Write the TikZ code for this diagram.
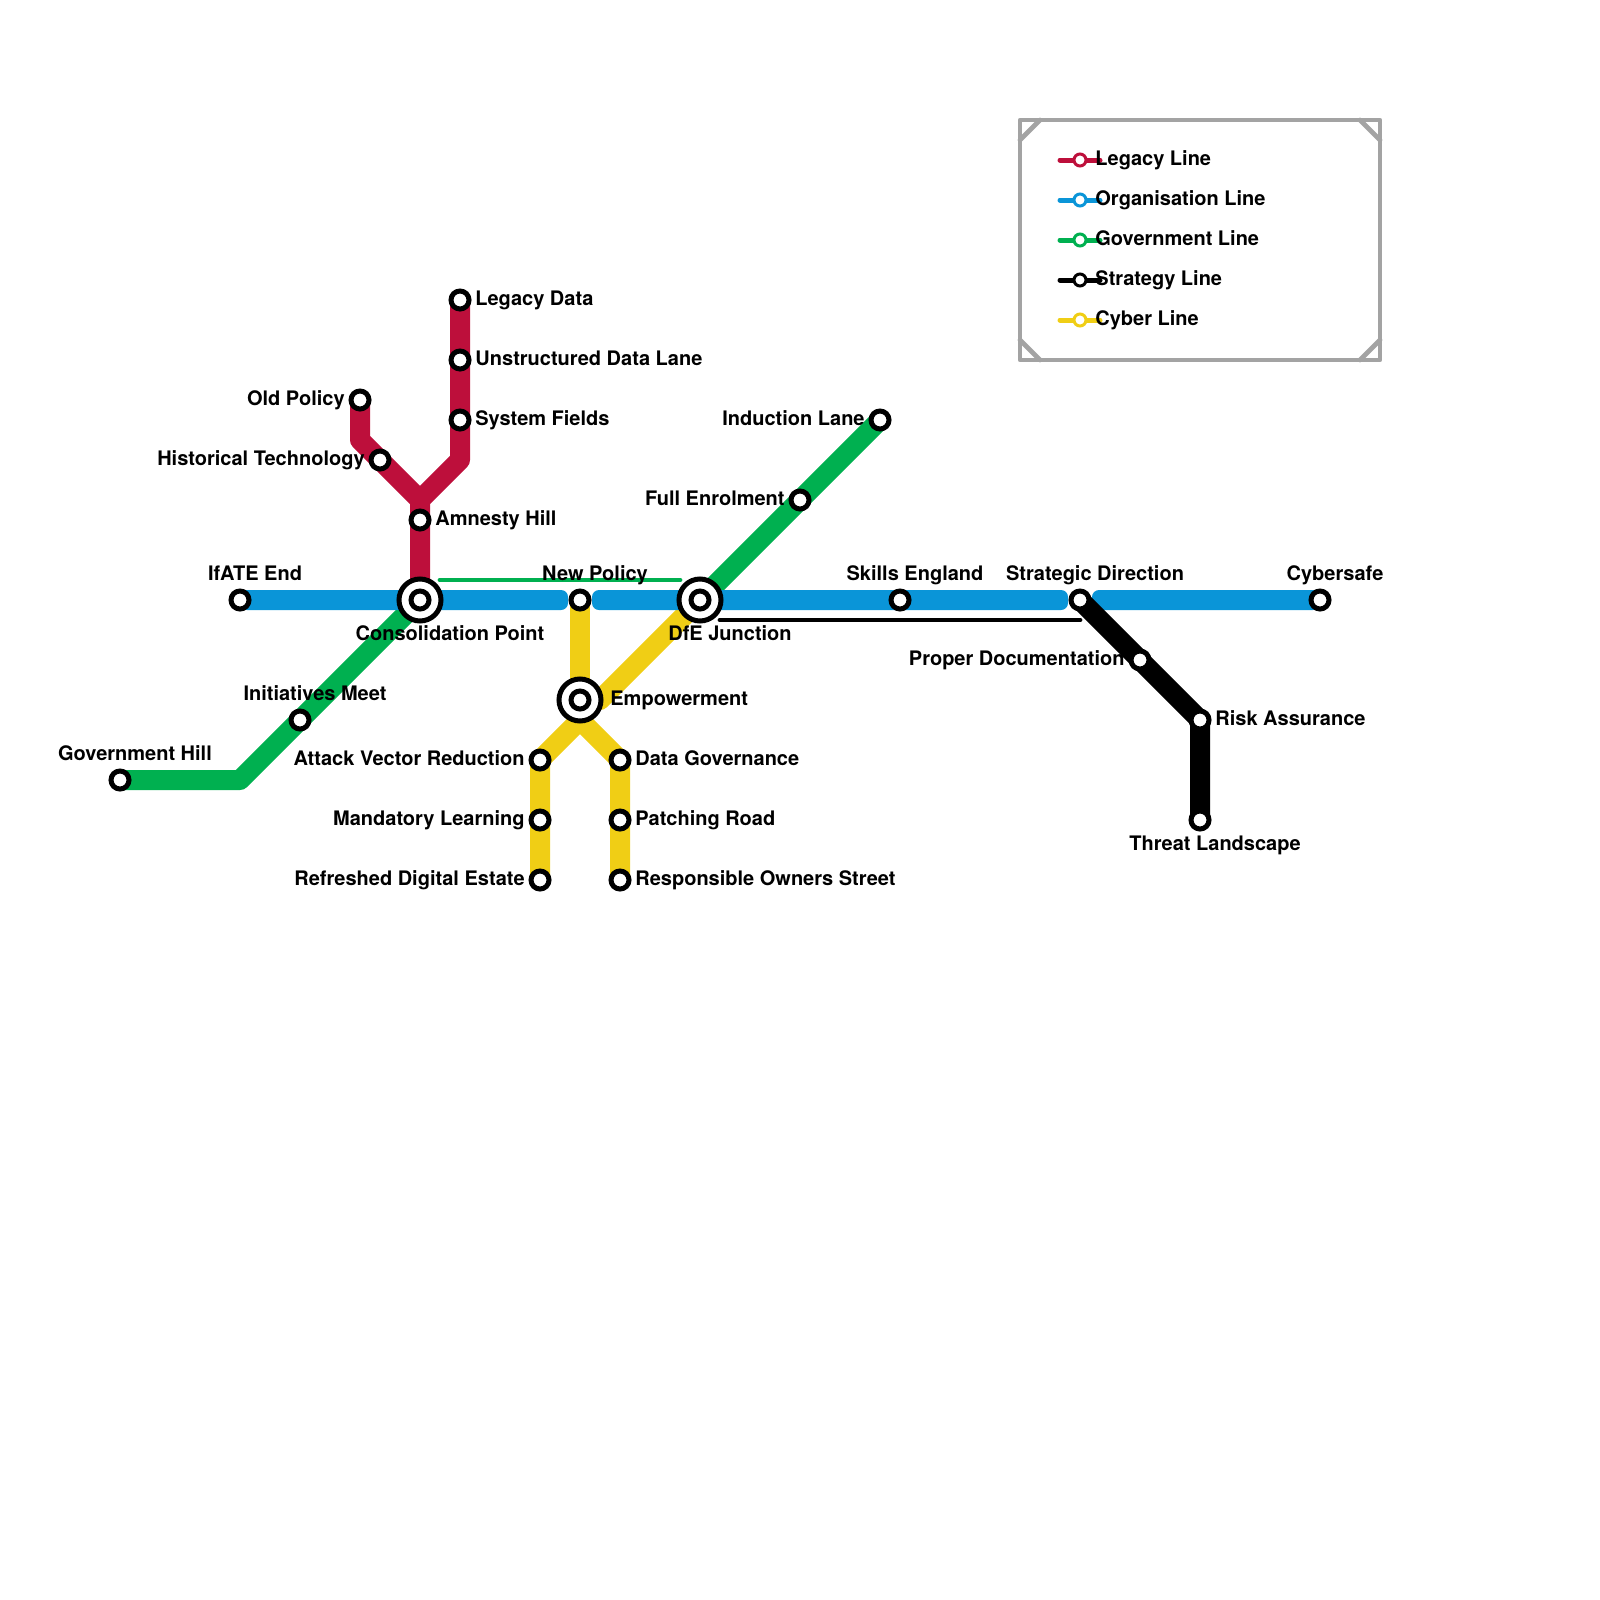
\documentclass[tikz,border=0pt]{standalone}
\usepackage{fontspec}
\setmainfont{TeX Gyre Heros}
\usetikzlibrary{backgrounds,calc}
\definecolor{legacyc}{HTML}{BD0F3B}
\definecolor{orgc}{HTML}{0A95D8}
\definecolor{govc}{HTML}{00B050}
\definecolor{cyberc}{HTML}{F0CE15}
\definecolor{framec}{HTML}{A3A3A3}
\tikzset{
  x=0.5pt,y=-0.5pt,
  stn/.style={circle,draw=black,fill=white,line width=2.5pt,minimum size=9pt,inner sep=0pt,outer sep=0pt},
  hub/.style={circle,draw=black,fill=white,line width=2.5pt,minimum size=21pt,inner sep=0pt,outer sep=0pt},
  lbl/.style={font=\fontsize{10}{12}\selectfont\bfseries,inner sep=0pt,text=black},
  rl/.style={lbl,anchor=base west},
  ll/.style={lbl,anchor=base east},
  tl/.style={lbl,anchor=base},
  route/.style={line width=10pt,line join=round,line cap=butt},
  thin route/.style={line width=2.4pt,line cap=round},
  key/.style={line width=2.5pt,line cap=round},
  keystn/.style={circle,fill=white,line width=1.5pt,minimum size=6pt,inner sep=0pt,outer sep=0pt},
  corner/.style={draw=framec,line width=2.4pt,line cap=round},
}
\newcommand{\hubstn}[3]{%
  \node[hub] (#1) at (#2,#3) {};
  \node[stn] at (#2,#3) {};
}
\begin{document}
\begin{tikzpicture}
\useasboundingbox (0,0) rectangle (1600,1600);

% legend frame
\node[draw=framec,line width=2.4pt,line join=round,minimum width=180pt,minimum height=120pt,inner sep=0pt,outer sep=0pt,anchor=north west] (frame) at (1020,120) {};
\draw[corner] (1020,140) -- (1040,120);
\draw[corner] (1360,120) -- (1380,140);
\draw[corner] (1020,340) -- (1040,360);
\draw[corner] (1360,360) -- (1380,340);

% stations
\node[stn] (legacydata) at (460,300) {};
\node[stn] (unstructured) at (460,360) {};
\node[stn] (systemfields) at (460,420) {};
\node[stn] (oldpolicy) at (360,400) {};
\node[stn] (histtech) at (380,460) {};
\node[stn] (amnesty) at (420,520) {};
\node[stn] (ifate) at (240,600) {};
\hubstn{consol}{420}{600}
\node[stn] (newpolicy) at (580,600) {};
\hubstn{dfe}{700}{600}
\node[stn] (skills) at (900,600) {};
\node[stn] (strategic) at (1080,600) {};
\node[stn] (cybersafe) at (1320,600) {};
\node[stn] (inducion) at (880,420) {};
\node[stn] (fullenrol) at (800,500) {};
\node[stn] (initiatives) at (300,720) {};
\node[stn] (govhill) at (120,780) {};
\hubstn{empower}{580}{700}
\node[stn] (attack) at (540,760) {};
\node[stn] (mandatory) at (540,820) {};
\node[stn] (refreshed) at (540,880) {};
\node[stn] (datagov) at (620,760) {};
\node[stn] (patching) at (620,820) {};
\node[stn] (responsible) at (620,880) {};
\node[stn] (properdoc) at (1140,660) {};
\node[stn] (risk) at (1200,720) {};
\node[stn] (threat) at (1200,820) {};

% bends
\coordinate (legacyj) at (420,500);
\coordinate (legacyb) at (460,460);
\coordinate (oldb) at (360,440);
\coordinate (govb) at (240,780);
\coordinate (cyberj) at (580,720);
\coordinate (cyberb) at (600,700);
\coordinate (orgA) at (568,600);
\coordinate (orgB) at (592,600);
\coordinate (orgC) at (1068,600);
\coordinate (orgD) at (1092,600);
\coordinate (thinGa) at (440,580);
\coordinate (thinGb) at (680,580);
\coordinate (thinKa) at (720,620);
\coordinate (thinKb) at (1080,620);

\begin{scope}[on background layer]
  \draw[route,govc] (govhill.center) -- (govb) -- (initiatives.center) -- (consol.center);
  \draw[route,govc] (dfe.center) -- (fullenrol.center) -- (inducion.center);
  \draw[route,legacyc] (legacydata.center) -- (unstructured.center) -- (systemfields.center) -- (legacyb) -- (legacyj) -- (amnesty.center) -- (consol.center);
  \draw[route,legacyc] (oldpolicy.center) -- (oldb) -- (histtech.center) -- (legacyj);
  \draw[route,cyberc] (newpolicy.center) -- (empower.center);
  \draw[route,cyberc] (dfe.center) -- (cyberb) -- (empower.center);
  \draw[route,cyberc] (refreshed.center) -- (mandatory.center) -- (attack.center) -- (cyberj) -- (datagov.center) -- (patching.center) -- (responsible.center);
  \fill[orgc,rounded corners=3.5pt] ($(ifate)+(0,-10)$) rectangle ($(orgA)+(0,10)$);
  \fill[orgc,rounded corners=3.5pt] ($(orgB)+(0,-10)$) rectangle ($(orgC)+(0,10)$);
  \fill[orgc,rounded corners=3.5pt] ($(orgD)+(0,-10)$) rectangle ($(cybersafe)+(0,10)$);
  \draw[route,black] (strategic.center) -- (properdoc.center) -- (risk.center) -- (threat.center);
  \draw[thin route,govc] (thinGa) -- (thinGb);
  \draw[thin route,black] (thinKa) -- (thinKb);
\end{scope}

% station labels
\node[rl] at (475,305) {Legacy Data};
\node[rl] at (475,365) {Unstructured Data Lane};
\node[rl] at (475,425) {System Fields};
\node[ll] at (345,405) {Old Policy};
\node[ll] at (365,465) {Historical Technology};
\node[rl] at (435,525) {Amnesty Hill};
\node[tl] at (255,580) {IfATE End};
\node[tl] at (450,640) {Consolidation Point};
\node[tl] at (595,580) {New Policy};
\node[tl] at (730,640) {DfE Junction};
\node[tl] at (915,580) {Skills England};
\node[tl] at (1095,580) {Strategic Direction};
\node[tl] at (1335,580) {Cybersafe};
\node[ll] at (865,425) {Induction Lane};
\node[ll] at (785,505) {Full Enrolment};
\node[tl] at (315,700) {Initiatives Meet};
\node[tl] at (135,760) {Government Hill};
\node[rl] at (610,705) {Empowerment};
\node[ll] at (525,765) {Attack Vector Reduction};
\node[ll] at (525,825) {Mandatory Learning};
\node[ll] at (525,885) {Refreshed Digital Estate};
\node[rl] at (635,765) {Data Governance};
\node[rl] at (635,825) {Patching Road};
\node[rl] at (635,885) {Responsible Owners Street};
\node[ll] at (1125,665) {Proper Documentation};
\node[rl] at (1215,725) {Risk Assurance};
\node[tl] at (1215,850) {Threat Landscape};

% legend
\foreach \nm/\yy/\cc/\tt in {a/160/legacyc/Legacy Line,b/200/orgc/Organisation Line,c/240/govc/Government Line,d/280/black/Strategy Line,e/320/cyberc/Cyber Line}{
  \coordinate (k\nm l) at (1060,\yy);
  \coordinate (k\nm r) at (1100,\yy);
  \draw[key,\cc] (k\nm l) -- (k\nm r);
  \node[keystn,draw=\cc] (k\nm) at (1080,\yy) {};
  \node[rl] at (1095,\yy+5) {\tt};
}
\end{tikzpicture}
\end{document}
